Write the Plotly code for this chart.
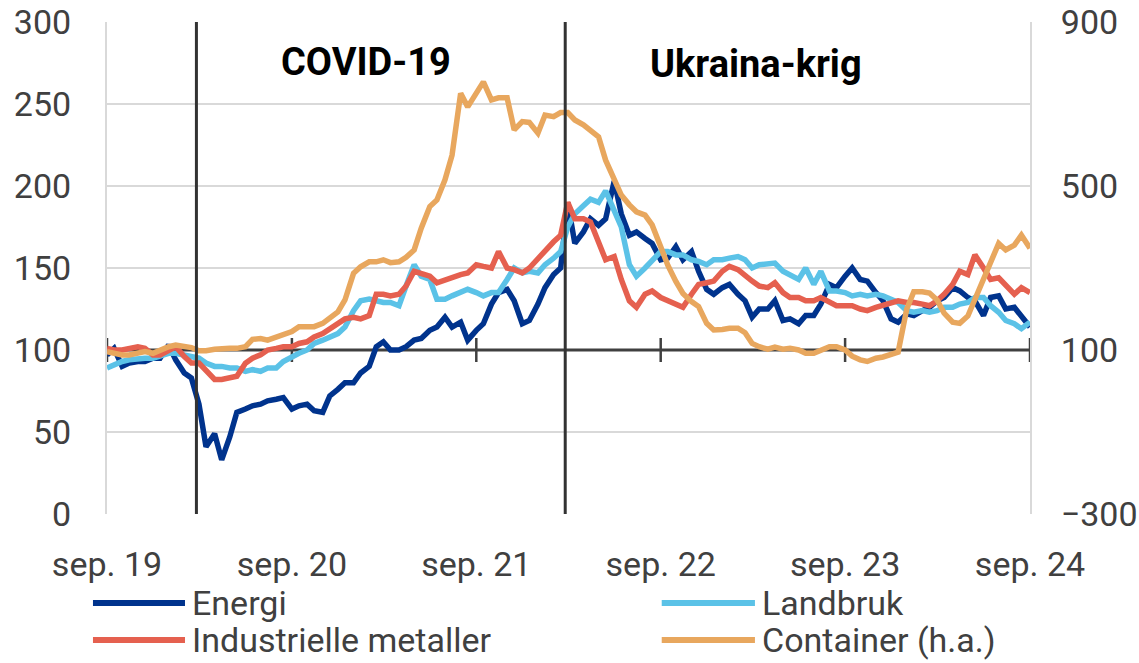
import pandas as pd
import plotly.graph_objects as go

# Half-monthly observation dates (1st and 15th), Sep 2019 - Sep 2024
dates = pd.date_range("2019-09-01", "2024-09-01", freq="SMS")

energi = [
    97, 101, 90, 92, 93, 93, 95, 95, 103, 94,
    86, 83, 67, 41, 49, 33, 47, 62, 64, 66,
    67, 69, 70, 71, 64, 66, 67, 63, 62, 72,
    76, 80, 80, 86, 90, 102, 105, 100, 100, 102,
    106, 107, 112, 114, 120, 114, 117, 106, 112, 116,
    128, 135, 137, 130, 116, 118, 128, 138, 146, 150,
    190, 165, 172, 180, 176, 180, 203, 183, 170, 172,
    168, 165, 155, 156, 163, 155, 160, 148, 137, 134,
    138, 140, 134, 130, 120, 125, 125, 130, 118, 119,
    116, 121, 121, 128, 140, 138, 145, 150, 143, 142,
    135, 130, 119, 117, 122, 121, 124, 126, 130, 132,
    138, 136, 132, 130, 121, 132, 133, 125, 126, 121,
    114,
]

landbruk = [
    89, 91, 93, 94, 95, 95, 95, 96, 98, 98,
    97, 96, 95, 92, 90, 90, 89, 89, 87, 88,
    87, 89, 89, 93, 96, 98, 100, 104, 106, 108,
    110, 114, 124, 130, 131, 130, 129, 129, 127, 139,
    152, 145, 143, 131, 131, 133, 135, 137, 135, 133,
    135, 135, 143, 150, 147, 148, 147, 152, 156, 160,
    175, 183, 188, 192, 190, 197, 185, 175, 152, 145,
    150, 155, 160, 160, 158, 158, 155, 154, 152, 155,
    155, 156, 157, 155, 150, 152, 153, 153, 148, 146,
    143, 150, 140, 148, 136, 136, 135, 133, 134, 133,
    134, 133, 131, 129, 124, 123, 124, 123, 124, 126,
    126, 128, 129, 132, 132, 127, 123, 118, 116, 113,
    117,
]

metaller = [
    101, 100, 100, 101, 102, 101, 97, 97, 100, 102,
    96, 92, 92, 88, 82, 82, 83, 84, 92, 95,
    97, 100, 101, 102, 102, 104, 105, 108, 110, 113,
    117, 119, 120, 119, 121, 134, 134, 133, 134, 139,
    148, 147, 145, 141, 143, 144, 146, 147, 152, 151,
    150, 160, 150, 149, 147, 150, 156, 161, 166, 170,
    190, 180, 180, 178, 165, 155, 157, 143, 130, 126,
    134, 136, 132, 130, 128, 126, 134, 140, 141, 142,
    148, 151, 149, 145, 142, 139, 138, 141, 135, 132,
    132, 130, 130, 132, 129, 127, 127, 127, 125, 124,
    126, 127, 129, 130, 129, 129, 128, 127, 130, 134,
    140, 148, 146, 158, 150, 143, 144, 139, 134, 138,
    135,
]

container = [
    96, 92, 88, 88, 92, 96, 92, 100, 108, 112,
    110, 106, 98, 98, 102, 104, 104, 104, 108, 126,
    128, 124, 131, 137, 145, 157, 157, 157, 165, 177,
    193, 222, 287, 303, 315, 315, 320, 313, 315, 326,
    344, 397, 450, 466, 515, 575, 726, 693, 726, 754,
    710, 715, 715, 637, 657, 655, 629, 673, 669, 679,
    679, 661, 649, 637, 620, 563, 515, 478, 454, 437,
    429, 405, 352, 307, 267, 238, 218, 206, 165, 149,
    150, 153, 153, 142, 116, 108, 102, 107, 102, 104,
    100, 92, 92, 98, 108, 108, 100, 85, 76, 72,
    80, 83, 88, 95, 200, 242, 242, 239, 222, 190,
    168, 165, 183, 222, 276, 312, 360, 344, 356, 380,
    348,
]

tick_dates = ["2019-09-01", "2020-09-01", "2021-09-01", "2022-09-01", "2023-09-01", "2024-09-01"]
tick_labels = ["sep. 19", "sep. 20", "sep. 21", "sep. 22", "sep. 23", "sep. 24"]
event_dates = ["2020-02-25", "2022-02-24"]
event_labels = ["COVID-19", "Ukraina-krig"]

names = ["Energi", "Landbruk", "Industrielle metaller", "Container (h.a.)"]
colors = ["#00338D", "#5BC2E7", "#E5604F", "#E8A75E"]
series = [energi, landbruk, metaller, container]
axes = ["y", "y", "y", "y2"]

FONT = "Roboto"
TXT = "#404040"
TICK = 34

fig = go.Figure()
for name, col, vals, ax in zip(names, colors, series, axes):
    fig.add_trace(go.Scatter(
        x=dates, y=vals, name=name, mode="lines", yaxis=ax,
        line=dict(color=col, width=5.5), showlegend=False,
    ))

# axis line crossing at 100 with year tick marks
fig.add_shape(type="line", xref="x", yref="y", x0=dates[0], x1=dates[-1], y0=100, y1=100,
              line=dict(color="#404040", width=3), layer="between")
for d in tick_dates:
    fig.add_shape(type="line", xref="x", yref="y", x0=d, x1=d, ysizemode="pixel",
                  yanchor=100, y0=-12, y1=12, line=dict(color="#404040", width=2.5),
                  layer="between")

# event lines
for d in event_dates:
    fig.add_shape(type="line", xref="x", yref="paper", x0=d, x1=d, y0=0, y1=1,
                  line=dict(color="#333333", width=3), layer="above")

ann_pos = [(0.2806, 0.918), (0.703, 0.915)]
for (ax_, ay_), lab in zip(ann_pos, event_labels):
    fig.add_annotation(text="<b>" + lab + "</b>", xref="paper", yref="paper", x=ax_, y=ay_,
                       xanchor="center", yanchor="middle", showarrow=False,
                       font=dict(family=FONT, size=38, color="black"))

# custom legend (2 columns)
leg_pos = [(-0.0152, 0.0845, -0.181), (0.601, 0.702, -0.181),
           (-0.0152, 0.0845, -0.256), (0.601, 0.702, -0.256)]
for (x0, x1, yy), name, col in zip(leg_pos, names, colors):
    fig.add_shape(type="line", xref="paper", yref="paper", x0=x0, x1=x1, y0=yy, y1=yy,
                  line=dict(color=col, width=6))
    fig.add_annotation(text=name, xref="paper", yref="paper", x=x1 + 0.005, y=yy,
                       xanchor="left", yanchor="middle", showarrow=False,
                       font=dict(family=FONT, size=TICK, color=TXT))

fig.update_layout(
    width=1139, height=663,
    margin=dict(l=107, r=109, t=22, b=149, autoexpand=False),
    paper_bgcolor="white", plot_bgcolor="white",
    font=dict(family=FONT, size=TICK, color=TXT),
    showlegend=False,
    xaxis=dict(
        type="date", range=[dates[0], dates[-1]], automargin=False,
        tickvals=tick_dates, ticktext=tick_labels,
        ticks="", showgrid=False, zeroline=False, showline=False,
        ticklabelstandoff=27, tickfont=dict(size=TICK, color=TXT),
    ),
    yaxis=dict(
        range=[0, 300], dtick=50, showgrid=True, gridcolor="#d9d9d9", gridwidth=1.5,
        zeroline=False, showline=True, linecolor="#d9d9d9", linewidth=2,
        automargin=False, ticklabeloverflow="allow",
        ticks="", ticklabelstandoff=27, tickfont=dict(size=TICK, color=TXT),
    ),
    yaxis2=dict(
        overlaying="y", side="right", range=[-300, 900],
        tickvals=[-300, 100, 500, 900], showgrid=False, zeroline=False,
        showline=True, linecolor="#d9d9d9", linewidth=2,
        automargin=False, ticklabeloverflow="allow",
        ticks="", ticklabelstandoff=22, tickfont=dict(size=TICK, color=TXT),
    ),
)

# remove the default 8px page margin so the figure fills the window exactly
fig.write_html("out.html", config={"displayModeBar": False},
               post_script="document.body.style.margin='0';")
